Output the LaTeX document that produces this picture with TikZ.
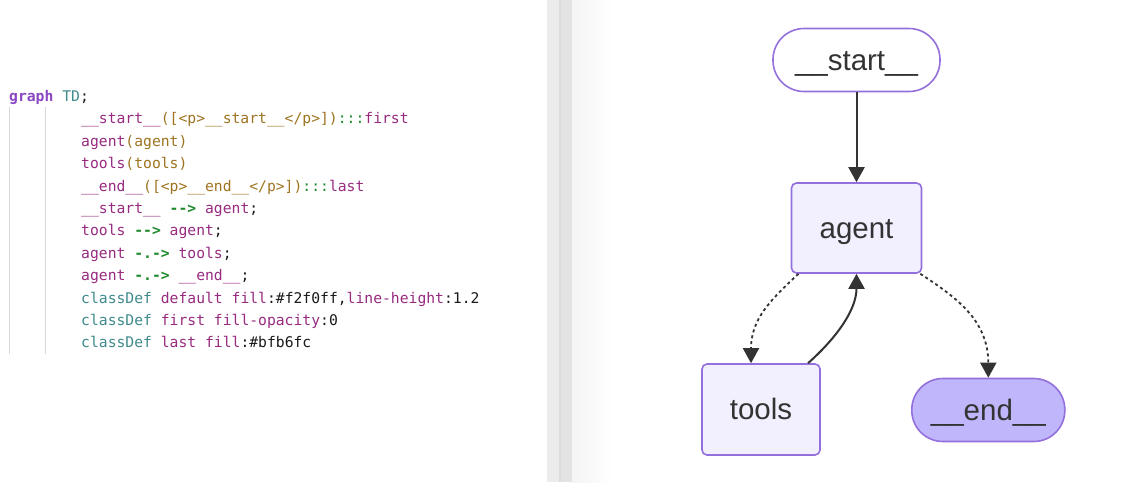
\documentclass[tikz,border=0pt]{standalone}
\usepackage{fontspec}
\setmainfont{Liberation Sans}
\setmonofont{DejaVu Sans Mono}
\usetikzlibrary{arrows.meta}
\frenchspacing
\definecolor{kwpurple}{HTML}{8B46C2}
\definecolor{kwteal}{HTML}{3F8A8C}
\definecolor{idmag}{HTML}{982B80}
\definecolor{brbrown}{HTML}{9E7420}
\definecolor{argreen}{HTML}{1E8A2C}
\definecolor{codeblack}{HTML}{1A1A1A}
\definecolor{guidegray}{HTML}{D9D9D9}
\definecolor{nodeborder}{HTML}{9370DB}
\definecolor{nodefill}{HTML}{F2F0FF}
\definecolor{endfill}{HTML}{BFB6FC}
\definecolor{edgecol}{HTML}{333333}
\definecolor{txtcol}{HTML}{333333}
\definecolor{divA}{HTML}{ECECEC}
\definecolor{divB}{HTML}{DCDCDC}
\definecolor{divC}{HTML}{E3E3E3}
\definecolor{shadeA}{HTML}{F4F4F4}
\newcommand\mykw[1]{\textcolor{kwpurple}{\bfseries #1}}
\newcommand\mytl[1]{\textcolor{kwteal}{#1}}
\newcommand\myid[1]{\textcolor{idmag}{#1}}
\newcommand\mybr[1]{\textcolor{brbrown}{#1}}
\newcommand\myar[1]{\textcolor{argreen}{\bfseries #1}}
\newcommand\mygr[1]{\textcolor{argreen}{#1}}
\tikzset{
  codeline/.style={anchor=base west, inner sep=0pt, text=codeblack,
    font=\ttfamily\fontsize{14.7}{17}\selectfont},
  guide/.style={draw=guidegray, line width=1pt},
  basebox/.style={draw=nodeborder, line width=1.6pt, inner sep=0pt,
    text=txtcol, font=\fontsize{29.5}{34}\selectfont,
    text height=22pt, text depth=2pt},
  roundbox/.style={basebox, fill=nodefill, rounded corners=5pt},
  stadium/.style={basebox, rounded corners=31pt},
  edge/.style={draw=edgecol, line width=2pt,
    -{Triangle[length=15pt,width=16pt]}},
  dashededge/.style={edge, line width=1.8pt, dash pattern=on 3pt off 3pt}
}
\begin{document}
\begin{tikzpicture}[x=1pt,y=-1pt]
\useasboundingbox (0,0) rectangle (1123,482);
% backgrounds
\fill[white] (0,0) rectangle (547,482);
\fill[divA] (547,0) rectangle (559,482);
\fill[divB] (559,0) rectangle (561,482);
\fill[divC] (561,0) rectangle (572,482);
\shade[left color=shadeA, right color=white] (572,0) rectangle (612,482);
\fill[white] (612,0) rectangle (1123,482);
% guides
\draw[guide] (9.5,107) -- (9.5,354);
\draw[guide] (45,107) -- (45,354);
% code
\node[codeline] (l0) at (9,101.5) {\mykw{graph} \mytl{TD};};
\node[codeline] (l1) at (81,123.9) {\myid{\_\_start\_\_}\mybr{([<p>\_\_start\_\_</p>])}\mygr{:::}\myid{first}};
\node[codeline] (l2) at (81,146.3) {\myid{agent}\mybr{(agent)}};
\node[codeline] (l3) at (81,168.7) {\myid{tools}\mybr{(tools)}};
\node[codeline] (l4) at (81,191.1) {\myid{\_\_end\_\_}\mybr{([<p>\_\_end\_\_</p>])}\mygr{:::}\myid{last}};
\node[codeline] (l5) at (81,213.5) {\myid{\_\_start\_\_} \myar{-->} \myid{agent};};
\node[codeline] (l6) at (81,235.9) {\myid{tools} \myar{-->} \myid{agent};};
\node[codeline] (l7) at (81,258.3) {\myid{agent} \myar{-.->} \myid{tools};};
\node[codeline] (l8) at (81,280.7) {\myid{agent} \myar{-.->} \myid{\_\_end\_\_};};
\node[codeline] (l9) at (81,303.1) {\mytl{classDef} \myid{default} \myid{fill}:\#f2f0ff,\myid{line-height}:1.2};
\node[codeline] (l10) at (81,325.5) {\mytl{classDef} \myid{first} \myid{fill-opacity}:0};
\node[codeline] (l11) at (81,347.9) {\mytl{classDef} \myid{last} \myid{fill}:\#bfb6fc};
% diagram nodes
\node[stadium, fill=white, minimum width=167pt, minimum height=63pt] (start) at (856.5,60) {\_\_start\_\_};
\node[roundbox, minimum width=130pt, minimum height=90pt] (agent) at (856.5,228) {agent};
\node[roundbox, minimum width=118pt, minimum height=91pt] (tools) at (761,409.5) {tools};
\node[stadium, fill=endfill, minimum width=153pt, minimum height=63pt] (end) at (988.3,410) {\_\_end\_\_};
% edges
\draw[edge] (start.south) -- (agent.north);
\draw[edge] ([xshift=47pt]tools.north) .. controls +(27,-24) and +(0,37) .. (agent.south);
\draw[dashededge] ([xshift=-58pt]agent.south) .. controls +(-28,26) and +(0,-44) .. ([xshift=-10pt]tools.north);
\draw[dashededge] ([xshift=-2pt]agent.south east) .. controls +(35,23) and +(0,-58) .. (end.north);
\end{tikzpicture}
\end{document}
